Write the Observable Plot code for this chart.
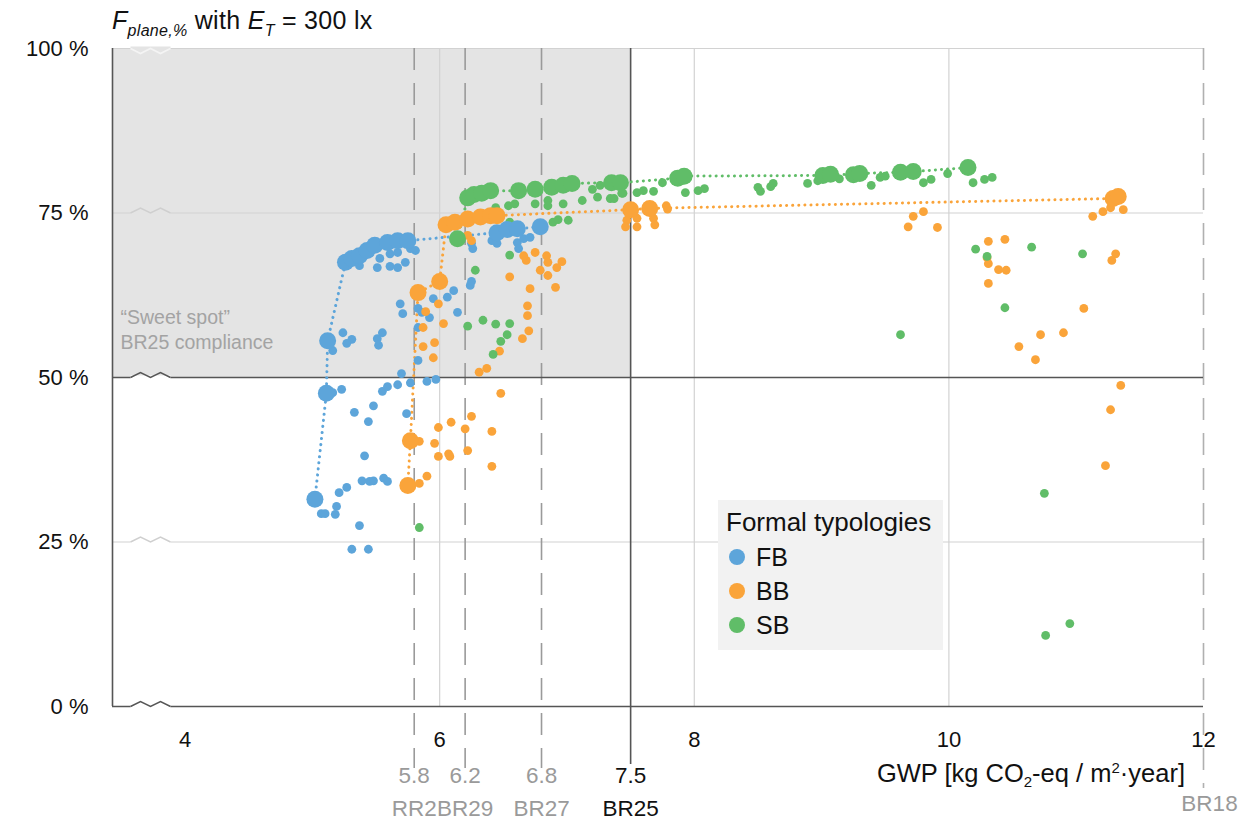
<!DOCTYPE html>
<html><head><meta charset="utf-8">
<script src="https://cdn.jsdelivr.net/npm/d3@7"></script>
<script src="https://cdn.jsdelivr.net/npm/@observablehq/plot@0.6"></script>
<style>
body{margin:0;background:#fff;font-family:"Liberation Sans",Arial,sans-serif;}
#wrap{position:relative;width:1242px;height:829px;overflow:hidden;}
#title{position:absolute;left:112px;top:5px;font-size:25px;color:#111;white-space:nowrap;line-height:30px;letter-spacing:0.3px;}
#title sub{font-size:16px;vertical-align:-7px;line-height:0;}
#xlabel{position:absolute;right:57px;top:759px;font-size:25.5px;color:#111;white-space:nowrap;line-height:28px;}
#xlabel sub,#xlabel sup{font-size:15px;line-height:0;}
#xlabel sub{vertical-align:-5px;} #xlabel sup{vertical-align:9px;}
#legend{position:absolute;left:718px;top:500px;width:225px;height:150px;background:#f2f2f2;box-sizing:border-box;padding:7px 0 0 8px;}
#legend .lt{font-size:26px;color:#111;line-height:30px;margin-bottom:3px;}
#legend .it{display:flex;align-items:center;height:34px;font-size:25px;color:#111;}
#legend .sw{width:16px;height:16px;border-radius:50%;margin:0 11px 0 3px;}
</style></head><body>
<div id="wrap">
<div id="chart"></div>
<div id="title"><i>F</i><sub><i>plane,%</i></sub> with <i>E</i><sub><i>T</i></sub> = 300 lx</div>
<div id="xlabel">GWP [kg CO<sub>2</sub>-eq / m<sup>2</sup>·year]</div>
<div id="legend"></div>
</div>
<script>
// Categories
const typologies = ["FB", "BB", "SB"];
const typologyColors = ["#5DA5DA", "#FAA43A", "#60BD68"];
const legendTitle = "Formal typologies";

// Axis ticks
const xTicks = [4, 6, 8, 10, 12];
const yTicks = [0, 25, 50, 75, 100];
const xDomain = [3.43, 12];

// Reference thresholds (GWP) and their names
const refValues = [5.8, 6.2, 6.8, 7.5, 12];
const refNames = ["RR2", "BR29", "BR27", "BR25", "BR18"];
const targetGWP = 7.5;       // BR25
const targetF = 50;          // Fplane threshold
const sweetSpotText = "\u201CSweet spot\u201D\nBR25 compliance";

// FB series: front (large, connected) and other variants
const fbFront = [[5.02,31.5],[5.11,47.6],[5.12,55.6],[5.26,67.5],[5.31,68.1],[5.37,68.5],[5.43,69.3],[5.49,70.1],[5.59,70.5],[5.67,70.8],[5.75,70.8],[6.45,72.0],[6.53,72.5],[6.61,72.6],[6.79,72.9]];
const fbOther = [[5.37,67.0],[5.51,66.7],[5.61,66.9],[5.67,66.7],[5.73,67.5],[5.53,68.1],[5.61,68.8],[5.67,69.0],[5.81,69.3],[5.77,69.6],
 [5.69,61.2],[5.71,59.7],[5.83,60.5],[5.86,59.9],[5.92,59.1],[5.95,62.0],[6.06,62.2],[6.11,63.2],[6.14,59.9],[6.24,64.0],[6.25,64.6],
 [5.24,56.8],[5.31,55.8],[5.27,55.2],[5.16,54.1],[5.55,56.8],[5.51,55.9],[5.52,54.9],[5.83,57.6],[5.83,52.6],
 [5.16,47.7],[5.23,48.2],[5.55,47.9],[5.59,48.6],[5.67,48.9],[5.70,50.6],[5.77,49.2],[5.90,49.4],[5.97,49.7],
 [5.48,45.7],[5.33,44.7],[5.44,43.3],[5.74,44.5],[5.41,38.1],[5.39,34.3],[5.45,34.2],[5.48,34.3],[5.56,34.7],[5.59,34.2],
 [5.27,33.3],[5.21,32.5],[5.19,30.4],[5.18,29.2],[5.07,29.3],[5.10,29.3],[5.37,27.5],[5.31,23.9],[5.44,23.9],
 [6.25,70.4],[6.26,69.6],[6.41,70.8],[6.45,70.4],[6.61,70.5],[6.66,71.1],[6.71,71.3],[6.62,69.6]];

// BB series
const bbFront = [[5.75,33.6],[5.77,40.4],[5.83,62.9],[6.00,64.6],[6.05,73.2],[6.12,73.6],[6.22,74.1],[6.32,74.4],[6.40,74.6],[6.45,74.6],[7.50,75.5],[7.65,75.7],[11.29,77.2],[11.33,77.5]];
const bbOther = [[6.48,47.6],[6.25,44.1],[6.09,43.2],[5.99,42.4],[6.20,42.2],[6.41,41.8],[5.84,40.3],[5.96,40.0],[6.07,38.4],[6.08,38.0],[5.99,38.0],[6.22,38.9],[6.41,36.5],[5.90,35.0],[5.84,33.9],
 [6.55,65.3],[6.71,63.5],[6.91,63.7],[6.68,67.8],[6.75,69.0],[6.84,68.5],[6.85,67.5],[6.92,66.7],[6.96,67.6],[6.79,66.3],[6.85,65.5],[6.66,68.5],
 [6.69,60.9],[6.69,59.4],[6.70,57.1],[6.65,55.9],[6.47,54.0],[6.37,51.4],[6.31,50.8],
 [5.99,61.2],[6.03,58.2],[5.96,55.3],[5.87,54.7],[5.95,53.0],[5.87,57.6],[5.89,60.0],[6.22,71.6],[6.25,70.8],
 [7.47,73.9],[7.46,72.9],[7.55,74.2],[7.55,72.9],[7.68,74.2],[7.69,73.2],[7.78,76.1],[7.79,75.6],
 [9.72,74.5],[9.80,75.2],[9.68,72.9],[9.91,72.8],
 [10.31,70.7],[10.44,71.0],[10.30,68.2],[10.31,67.3],[10.39,66.4],[10.45,66.3],[10.31,64.3],
 [10.72,56.5],[10.90,56.8],[10.55,54.7],[10.68,52.7],[11.06,60.5],[11.31,68.8],[11.28,67.8],[11.35,48.8],[11.27,45.1],[11.23,36.6],
 [11.13,74.5],[11.21,75.2],[11.27,75.8],[11.37,75.5]];

// SB series
const sbFront = [[6.14,71.1],[6.22,77.3],[6.27,77.8],[6.33,78.0],[6.40,78.4],[6.62,78.4],[6.75,78.6],[6.88,78.9],[6.97,79.2],[7.04,79.5],[7.35,79.6],[7.42,79.6],[7.87,80.3],[7.92,80.6],[9.01,80.7],[9.07,80.9],[9.25,80.8],[9.30,81.0],[9.62,81.2],[9.72,81.3],[10.15,81.9]];
const sbOther = [[6.54,76.1],[6.59,76.4],[6.75,76.4],[6.85,76.9],[6.85,76.1],[6.97,76.4],[7.12,76.9],[7.20,78.6],[7.26,79.2],[7.24,77.4],[7.43,78.0],[7.34,77.2],[6.44,75.8],[6.55,73.6],[6.89,73.6],[6.93,74.0],[7.01,73.9],[6.55,68.6],[6.28,66.3],
 [6.22,57.8],[6.34,58.7],[6.44,58.1],[6.55,58.2],[6.53,56.5],[6.48,55.5],[6.42,53.5],[5.84,27.2],
 [7.37,77.2],[7.44,78.0],[7.55,78.1],[7.60,78.4],[7.68,78.3],[7.75,79.6],[7.93,78.1],[8.03,78.4],[8.08,78.7],[8.50,78.9],[8.52,78.3],[8.60,79.0],[8.62,79.5],[8.89,79.5],[8.97,79.9],[9.14,80.2],[9.39,79.2],[9.46,80.4],[9.50,80.6],[9.80,79.6],[9.86,80.1],[9.99,81.0],[10.19,79.6],[10.28,80.1],[10.34,80.4],
 [10.21,69.5],[10.30,68.4],[10.65,69.8],[11.05,68.8],[10.44,60.6],[9.62,56.5],[10.75,32.4],[10.95,12.6],[10.76,10.8]];

// Build tables
const seriesDefs = [["FB", fbFront, fbOther], ["BB", bbFront, bbOther], ["SB", sbFront, sbOther]];
const front = [], other = [];
for (const [typ, f, o] of seriesDefs) {
  f.forEach(([g, p]) => front.push({typ, gwp: g, f: p}));
  o.forEach(([g, p]) => other.push({typ, gwp: g, f: p}));
}
const refs = refValues.map((v, i) => ({v, name: refNames[i]}));

// Axis-break zigzag symbols
const zigUp = {draw(c){c.moveTo(-20,0);c.lineTo(-10,-5);c.lineTo(0,0);c.lineTo(10,-5);c.lineTo(20,0);}};
const zigDown = {draw(c){c.moveTo(-20,0);c.lineTo(-10,5);c.lineTo(0,0);c.lineTo(10,5);c.lineTo(20,0);}};
const flat = {draw(c){c.moveTo(-20,0);c.lineTo(20,0);}};
const inShade = y => y > targetF;
const dark = y => y === 0 || y === targetF;

const chart = Plot.plot({
  width: 1242, height: 829,
  marginLeft: 112, marginRight: 39, marginTop: 48, marginBottom: 123,
  x: {domain: xDomain},
  y: {domain: [0, 100]},
  color: {domain: typologies, range: typologyColors},
  style: {fontFamily: "'Liberation Sans', Arial, sans-serif", color: "#111", background: "transparent"},
  marks: [
    Plot.rect([{}], {x1: xDomain[0], x2: targetGWP, y1: targetF, y2: 100, fill: "#e4e4e4"}),
    Plot.ruleY(yTicks.filter(t => t !== 0 && t !== targetF), {stroke: "#d2d2d2", strokeWidth: 1.2}),
    Plot.ruleX(xTicks.filter(t => t > 4 && t < 12), {stroke: "#d2d2d2", strokeWidth: 1.2}),
    Plot.ruleX(refs.filter(r => r.v < targetGWP), {x: "v", stroke: "#9a9a9a", strokeWidth: 1.6, strokeDasharray: "22,13", insetBottom: -62}),
    Plot.ruleX(refs.filter(r => r.v === 12), {x: "v", stroke: "#b0b0b0", strokeWidth: 1.6, strokeDasharray: "22,13", insetBottom: -82}),
    Plot.ruleX([targetGWP], {stroke: "#555", strokeWidth: 1.6, insetBottom: -58}),
    Plot.ruleY([targetF], {stroke: "#555", strokeWidth: 1.6}),
    Plot.ruleY([0], {stroke: "#555", strokeWidth: 1.6}),
    Plot.ruleX([xDomain[0]], {stroke: "#555", strokeWidth: 1.6}),
    // axis breaks
    Plot.dot(yTicks, {x: () => xDomain[0], y: d => d, dx: 38, symbol: flat, r: 1, fill: "none", stroke: d => inShade(d) || d === 100 ? "#e4e4e4" : "#fff", strokeWidth: 4}),
    Plot.dot(yTicks.filter(d => d !== 100), {x: () => xDomain[0], y: d => d, dx: 38, symbol: zigUp, r: 1, fill: "none", stroke: d => dark(d) ? "#555" : "#cfcfcf", strokeWidth: 1.4}),
    Plot.dot([100], {x: () => xDomain[0], y: d => d, dx: 38, symbol: zigDown, r: 1, fill: "none", stroke: "#f4f4f4", strokeWidth: 1.6}),
    Plot.text([sweetSpotText], {x: () => xDomain[0], y: 57.5, text: d => d, textAnchor: "start", dx: 8, fill: "#a3a3a3", fontSize: 19.5, lineHeight: 1.3}),
    // front lines
    Plot.line(front, {x: "gwp", y: "f", z: "typ", stroke: "typ", strokeWidth: 3, strokeDasharray: "0.1,6", strokeLinecap: "round"}),
    Plot.dot(other, {x: "gwp", y: "f", fill: "typ", r: 4.4}),
    Plot.dot(front, {x: "gwp", y: "f", fill: "typ", r: 8.5}),
    // axes
    Plot.axisX({ticks: xTicks, tickSize: 0, tickPadding: 25, fontSize: 22, label: null, fill: "#111"}),
    Plot.axisY({ticks: yTicks, tickSize: 0, tickPadding: 24, fontSize: 22, label: null, tickFormat: d => d + " %", fill: "#111"}),
    // threshold labels
    Plot.text(refs.filter(r => r.v < 12), {x: "v", text: d => d.v.toFixed(1), frameAnchor: "bottom", dy: 76, fontSize: 22.5, fill: d => d.v === targetGWP ? "#111" : "#9a9a9a"}),
    Plot.text(refs.filter(r => r.v < 12), {x: "v", text: "name", frameAnchor: "bottom", dy: 109, fontSize: 22.5, fill: d => d.v === targetGWP ? "#111" : "#9a9a9a"}),
    Plot.text(refs.filter(r => r.v === 12), {x: "v", text: "name", frameAnchor: "bottom", dy: 104, dx: 6, fontSize: 22.5, fill: "#9a9a9a"})
  ]
});
document.getElementById("chart").appendChild(chart);

// Legend
const lg = document.getElementById("legend");
lg.innerHTML = `<div class="lt">${legendTitle}</div>` +
  typologies.map((t, i) => `<div class="it"><span class="sw" style="background:${typologyColors[i]}"></span>${t}</div>`).join("");
</script>
</body></html>
